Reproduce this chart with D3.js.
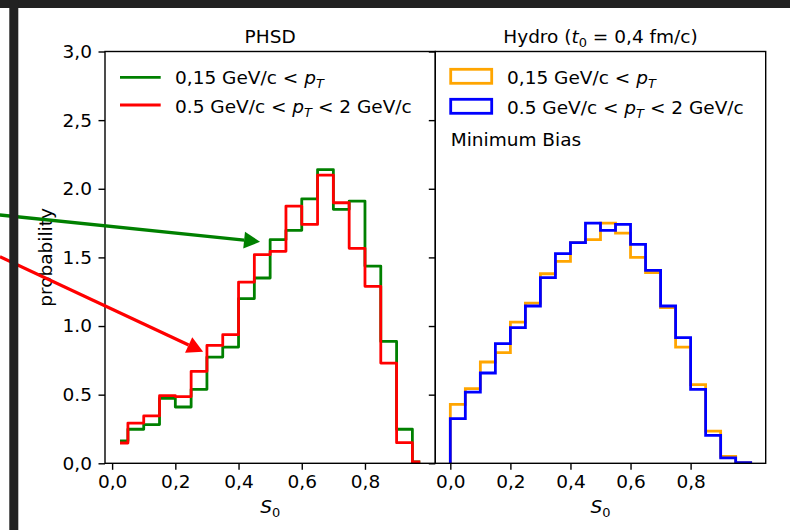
<!DOCTYPE html>
<html lang="en">

<head>
    <meta charset="UTF-8">
    <title>S0 distributions</title>
    <script src="https://cdn.jsdelivr.net/npm/d3@7"></script>
    <style>
        body {
            margin: 0;
            background: #fff;
        }

        svg {
            display: block;
            font-family: "DejaVu Sans", sans-serif;
        }
    </style>
</head>

<body>
    <script>
        'use strict';
        // PHSD: step plot, values at bin centres
        var phsdCenters = [0.025, 0.075, 0.125, 0.175, 0.225, 0.275, 0.325, 0.375, 0.425, 0.475,
            0.525, 0.575, 0.625, 0.675, 0.725, 0.775, 0.825, 0.875, 0.925, 0.975];
        var phsdGreen = [0.163, 0.248, 0.282, 0.473, 0.41, 0.539, 0.774, 0.847, 1.20, 1.35,
            1.629, 1.697, 1.927, 2.14, 1.85, 1.91, 1.437, 0.888, 0.248, 0.01];
        var phsdRed = [0.148, 0.293, 0.345, 0.493, 0.486, 0.67, 0.859, 0.937, 1.32, 1.52,
            1.544, 1.874, 1.74, 2.10, 1.898, 1.566, 1.289, 0.73, 0.15, 0.01];

        // Hydro: histogram (step), bin edges 0..1
        var hydroEdges = [0, 0.05, 0.1, 0.15, 0.2, 0.25, 0.3, 0.35, 0.4, 0.45, 0.5,
            0.55, 0.6, 0.65, 0.7, 0.75, 0.8, 0.85, 0.9, 0.95, 1.0];
        var hydroOrange = [0.43, 0.544, 0.738, 0.806, 1.029, 1.167, 1.381, 1.471, 1.607, 1.629,
            1.75, 1.677, 1.50, 1.39, 1.134, 0.847, 0.573, 0.235, 0.051, 0.005];
        var hydroBlue = [0.325, 0.519, 0.658, 0.872, 0.988, 1.146, 1.352, 1.527, 1.607, 1.75,
            1.697, 1.74, 1.595, 1.405, 1.146, 0.915, 0.539, 0.204, 0.039, 0.005];

        var xTicks = [0, 0.2, 0.4, 0.6, 0.8];
        var xTickLabels = ['0,0', '0,2', '0,4', '0,6', '0,8'];
        var yTicks = [0, 0.5, 1.0, 1.5, 2.0, 2.5, 3.0];
        var yTickLabels = ['0,0', '0.5', '1.0', '1.5', '2.0', '2,5', '3,0'];

        // arrows drawn on top of the PHSD panel, in its data coordinates [S0, probability]
        var arrows = [
            { color: 'green', from: [-0.355, 1.809], to: [0.468, 1.614] },
            { color: 'red', from: [-0.355, 1.505], to: [0.288, 0.813] }
        ];

        var w = 790,
            h = 530,
            plotTop = 51.5,
            plotBottom = 463.3,
            fs = 18.5,
            lw = 2.8;

        var svg = d3.select('body')
            .append('svg')
            .attr('width', w)
            .attr('height', h);

        svg.append('rect').attr('width', w).attr('height', h).attr('fill', '#fff');

        var y = d3.scaleLinear().domain([0, 3]).range([plotBottom, plotTop]);
        var xL = d3.scaleLinear().domain([-0.0225, 1.0225]).range([105, 435.3]);
        var xR = d3.scaleLinear().domain([-0.05, 1.05]).range([435.3, 765.7]);

        svg.append('defs').selectAll('clipPath')
            .data([xL, xR])
            .enter()
            .append('clipPath')
            .attr('id', (d, i) => 'clip' + i)
            .append('rect')
            .attr('x', d => d.range()[0])
            .attr('y', plotTop)
            .attr('width', d => d.range()[1] - d.range()[0])
            .attr('height', plotBottom - plotTop);

        function drawAxes(x, showYLabels) {
            var g = svg.append('g');
            var xa = d3.axisBottom(x)
                .tickValues(xTicks)
                .tickSize(6.5)
                .tickPadding(5)
                .tickFormat((d, i) => xTickLabels[i]);
            var gx = g.append('g')
                .attr('transform', 'translate(0,' + plotBottom + ')')
                .call(xa);
            gx.select('.domain').remove();
            gx.selectAll('text').attr('font-size', fs).attr('font-family', 'DejaVu Sans').attr('fill', '#000');
            gx.selectAll('line').attr('stroke', '#000').attr('stroke-width', 1.4);

            var ya = d3.axisLeft(y)
                .tickValues(yTicks)
                .tickSize(6.5)
                .tickPadding(6.5)
                .tickFormat((d, i) => showYLabels ? yTickLabels[i] : '');
            var gy = g.append('g')
                .attr('transform', 'translate(' + x.range()[0] + ',0)')
                .call(ya);
            gy.select('.domain').remove();
            gy.selectAll('text').attr('font-size', fs).attr('font-family', 'DejaVu Sans').attr('fill', '#000');
            gy.selectAll('line').attr('stroke', '#000').attr('stroke-width', 1.4);

            g.append('rect')
                .attr('x', x.range()[0])
                .attr('y', plotTop)
                .attr('width', x.range()[1] - x.range()[0])
                .attr('height', plotBottom - plotTop)
                .attr('fill', 'none')
                .attr('stroke', '#000')
                .attr('stroke-width', 1.4);
        }

        // PHSD step lines (where='mid')
        var midLine = d3.line()
            .x(d => xL(d[0]))
            .y(d => y(d[1]))
            .curve(d3.curveStep);

        var gL = svg.append('g').attr('clip-path', 'url(#clip0)');
        [[phsdGreen, 'green'], [phsdRed, 'red']].forEach(function(s) {
            gL.append('path')
                .attr('d', midLine(phsdCenters.map((c, i) => [c, s[0][i]])))
                .attr('fill', 'none')
                .attr('stroke', s[1])
                .attr('stroke-width', lw)
                .attr('stroke-linejoin', 'round');
        });

        // Hydro step histograms
        var histLine = d3.line()
            .x(d => xR(d[0]))
            .y(d => y(d[1]))
            .curve(d3.curveStepAfter);

        function histPoints(vals) {
            var pts = [[hydroEdges[0], 0]];
            vals.forEach((v, i) => pts.push([hydroEdges[i], v]));
            pts.push([hydroEdges[hydroEdges.length - 1], vals[vals.length - 1]]);
            pts.push([hydroEdges[hydroEdges.length - 1], 0]);
            return pts;
        }

        var gR = svg.append('g').attr('clip-path', 'url(#clip1)');
        [[hydroOrange, 'orange'], [hydroBlue, 'blue']].forEach(function(s) {
            gR.append('path')
                .attr('d', histLine(histPoints(s[0])))
                .attr('fill', 'none')
                .attr('stroke', s[1])
                .attr('stroke-width', lw)
                .attr('stroke-linejoin', 'miter');
        });

        drawAxes(xL, true);
        drawAxes(xR, false);

        // titles
        var cL = (xL.range()[0] + xL.range()[1]) / 2,
            cR = (xR.range()[0] + xR.range()[1]) / 2;

        svg.append('text')
            .attr('x', cL).attr('y', 43)
            .attr('text-anchor', 'middle')
            .attr('font-size', fs)
            .text('PHSD');

        var tR = svg.append('text')
            .attr('x', cR).attr('y', 43)
            .attr('text-anchor', 'middle')
            .attr('font-size', fs);
        tR.append('tspan').text('Hydro (');
        tR.append('tspan').attr('font-style', 'italic').text('t');
        tR.append('tspan').attr('font-size', fs * 0.7).attr('dy', 4).text('0');
        tR.append('tspan').attr('dy', -4).text(' = 0,4 fm/c)');

        // axis labels
        [cL, cR].forEach(function(cx) {
            var t = svg.append('text')
                .attr('x', cx).attr('y', 513)
                .attr('text-anchor', 'middle')
                .attr('font-size', fs);
            t.append('tspan').attr('font-style', 'italic').text('S');
            t.append('tspan').attr('font-size', fs * 0.7).attr('dy', 4).text('0');
        });

        svg.append('text')
            .attr('transform', 'translate(52,' + ((plotTop + plotBottom) / 2) + ') rotate(-90)')
            .attr('text-anchor', 'middle')
            .attr('font-size', fs)
            .text('probability');

        // legends
        function ptLabel(sel, x, yb, upper) {
            var t = sel.append('text')
                .attr('x', x).attr('y', yb)
                .attr('font-size', fs);
            t.append('tspan').text(upper ? '0.5 GeV/c < ' : '0,15 GeV/c < ');
            t.append('tspan').attr('font-style', 'italic').text('p');
            t.append('tspan').attr('font-style', 'italic').attr('font-size', fs * 0.7).attr('dy', 4).text('T');
            if (upper) t.append('tspan').attr('dy', -4).text(' < 2 GeV/c');
        }

        var legL = [['green', 77.3, 84, false], ['red', 105, 112.5, true]];
        legL.forEach(function(d) {
            svg.append('line')
                .attr('x1', 120).attr('x2', 160.7)
                .attr('y1', d[1]).attr('y2', d[1])
                .attr('stroke', d[0])
                .attr('stroke-width', lw);
            ptLabel(svg, 175, d[2], d[3]);
        });

        var legR = [['orange', 76.3, 84, false], ['blue', 106.3, 114, true]];
        legR.forEach(function(d) {
            svg.append('rect')
                .attr('x', 450.7).attr('y', d[1] - 7)
                .attr('width', 41).attr('height', 14)
                .attr('fill', 'none')
                .attr('stroke', d[0])
                .attr('stroke-width', lw);
            ptLabel(svg, 507, d[2], d[3]);
        });

        svg.append('text')
            .attr('x', 450.7).attr('y', 145.5)
            .attr('font-size', fs)
            .text('Minimum Bias');

        // annotation arrows
        arrows.forEach(function(a) {
            var x0 = xL(a.from[0]), y0 = y(a.from[1]),
                x1 = xL(a.to[0]), y1 = y(a.to[1]);
            var ang = Math.atan2(y1 - y0, x1 - x0),
                hl = 16, hw = 8.5;
            var bx = x1 - hl * Math.cos(ang), by = y1 - hl * Math.sin(ang);
            svg.append('line')
                .attr('x1', x0).attr('y1', y0)
                .attr('x2', bx).attr('y2', by)
                .attr('stroke', a.color)
                .attr('stroke-width', 3.3);
            var px = -Math.sin(ang), py = Math.cos(ang);
            svg.append('path')
                .attr('d', 'M' + x1 + ',' + y1 +
                    'L' + (bx + hw * px) + ',' + (by + hw * py) +
                    'L' + (bx - hw * px) + ',' + (by - hw * py) + 'Z')
                .attr('fill', a.color);
        });

        // dark frame from the screenshot
        svg.append('rect').attr('x', 0).attr('y', 0).attr('width', w).attr('height', 8).attr('fill', '#222');
        svg.append('rect').attr('x', 9.3).attr('y', 0).attr('width', 9).attr('height', h).attr('fill', '#222');
    </script>
</body>

</html>
